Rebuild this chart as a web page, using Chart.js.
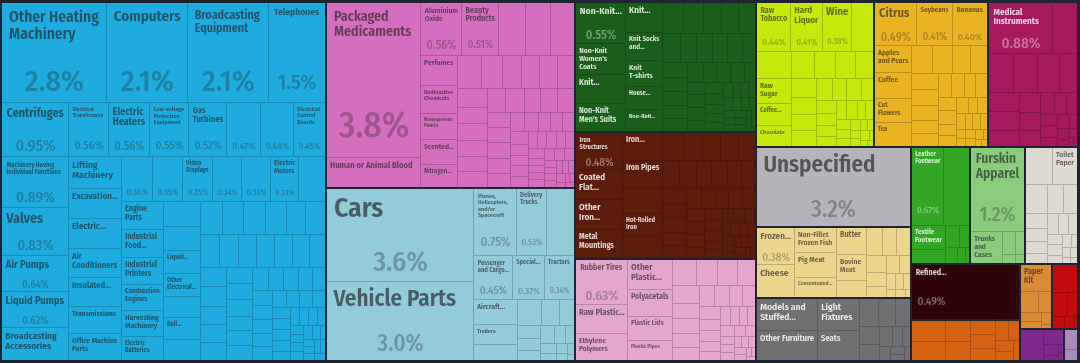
<!DOCTYPE html>
<html>
<head>
<meta charset="utf-8">
<script src="https://cdn.jsdelivr.net/npm/chart.js@4.4.0/dist/chart.umd.min.js"></script>
<style>
  html, body { margin: 0; padding: 0; background: #1e2430; }
  #wrap { width: 1080px; height: 363px; }
</style>
</head>
<body>
<div id="wrap"><canvas id="treemap"></canvas></div>
<script>
// export shares (%) by product, grouped by section; names only where the chart shows one
const machineLabels = ['Other Heating Machinery', 'Computers', 'Broadcasting Equipment', 'Telephones',
  'Centrifuges', 'Machinery Having Individual Functions', 'Valves', 'Air Pumps', 'Liquid Pumps', 'Broadcasting Accessories',
  'Electrical Transformers', 'Electric Heaters', 'Low-voltage Protection Equipment', 'Gas Turbines', 'Spark-Ignition Engines', '', 'Electrical Control Boards',
  'Lifting Machinery', 'Excavation...', 'Electric...', 'Air Conditioners', 'Insulated...', 'Transmissions', 'Office Machine Parts',
  '', '', 'Video Displays', '', '', 'Electric Motors', '',
  'Engine Parts', 'Industrial Food...', 'Industrial Printers', 'Combustion Engines', 'Harvesting Machinery', 'Electric Batteries',
  '', '', 'Liquid...', 'Other Electrical...', '', 'Ball...', ''];
const machineValues = [2.76, 2.1, 2.1, 1.5,
  0.95, 0.89, 0.83, 0.64, 0.62, 0.58,
  0.56, 0.56, 0.55, 0.52, 0.47, 0.46, 0.45,
  0.44, 0.42, 0.41, 0.40, 0.39, 0.38, 0.37,
  0.36, 0.35, 0.35, 0.34, 0.33, 0.33, 0.32,
  0.30, 0.29, 0.29, 0.28, 0.27, 0.26,
  0.24, 0.23, 0.22, 0.22, 0.21, 0.21, 0.20,
  0.19, 0.18, 0.18, 0.18, 0.17, 0.17,
  0.16, 0.16, 0.15, 0.15, 0.15, 0.14, 0.14,
  0.13, 0.13, 0.12, 0.12, 0.12, 0.11, 0.11, 0.11,
  0.10, 0.10, 0.10, 0.09, 0.09, 0.09, 0.08, 0.08, 0.08,
  0.07, 0.07, 0.07, 0.07, 0.06, 0.06, 0.06, 0.06, 0.05, 0.05, 0.05,
  0.05, 0.04, 0.04, 0.04, 0.04, 0.04, 0.03, 0.03, 0.03, 0.03, 0.03, 0.03, 0.02, 0.02, 0.02, 0.02, 0.02, 0.02, 0.02];

const chemLabels = ['Packaged Medicaments', 'Human or Animal Blood', 'Aluminium Oxide', 'Beauty Products', '', '', '',
  'Perfumes', 'Radioactive Chemicals', 'Nonaqueous Paints', 'Scented...', 'Nitrogen...', 'Hair Products'];
const chemValues = [3.8, 0.72, 0.56, 0.51, 0.38, 0.34, 0.33, 0.29, 0.27, 0.25, 0.23, 0.22, 0.21,
  0.18, 0.17, 0.16, 0.15, 0.15, 0.14, 0.13, 0.13, 0.12, 0.12, 0.12, 0.11, 0.11,
  0.10, 0.10, 0.10, 0.09, 0.09, 0.09, 0.09, 0.08, 0.07, 0.07, 0.06, 0.06, 0.06, 0.06, 0.05, 0.05, 0.05,
  0.05, 0.04, 0.04, 0.04, 0.04, 0.04, 0.04, 0.03, 0.03, 0.03,
  0.03, 0.03, 0.03, 0.03, 0.02, 0.02, 0.02, 0.02, 0.02, 0.02, 0.02, 0.02, 0.01, 0.01, 0.01, 0.01];

const transLabels = ['Cars', 'Vehicle Parts', 'Planes, Helicopters, and/or Spacecraft', 'Delivery Trucks', '',
  'Passenger and Cargo...', 'Special...', 'Tractors', 'Aircraft...', 'Trailers'];
const transValues = [3.6, 3.0, 0.75, 0.53, 0.48, 0.45, 0.37, 0.34, 0.28, 0.22, 0.18,
  0.16, 0.12, 0.10, 0.08, 0.07, 0.06, 0.06, 0.05, 0.04, 0.04, 0.03, 0.03, 0.02, 0.02, 0.01];

const textileLabels = ['Non-Knit...', "Non-Knit Women's Coats", 'Knit...', "Non-Knit Men's Suits",
  'Knit...', 'Knit Socks and...', 'Knit T-shirts', 'House...', 'Non-Knit...'];
const textileValues = [0.55, 0.40, 0.38, 0.36, 0.30, 0.27, 0.26, 0.22, 0.21,
  0.17, 0.16, 0.15, 0.14, 0.14, 0.13, 0.12, 0.12, 0.11, 0.11, 0.10,
  0.10, 0.09, 0.09, 0.08, 0.08, 0.08, 0.07, 0.07, 0.07, 0.06, 0.06, 0.06, 0.06, 0.05,
  0.05, 0.05, 0.04, 0.04, 0.04, 0.04, 0.03, 0.03,
  0.03, 0.03, 0.03, 0.03, 0.02, 0.02, 0.02, 0.02, 0.02, 0.02, 0.02, 0.01, 0.01, 0.01, 0.01, 0.01];

const metalLabels = ['Iron Structures', 'Coated Flat...', 'Other Iron...', 'Metal Mountings',
  'Iron...', 'Iron Pipes', '', 'Hot-Rolled Iron', ''];
const metalValues = [0.48, 0.38, 0.37, 0.36, 0.30, 0.28, 0.26, 0.24, 0.22,
  0.16, 0.15, 0.14, 0.14, 0.13, 0.12, 0.12, 0.11, 0.11, 0.10, 0.10,
  0.09, 0.09, 0.09, 0.08, 0.08, 0.08, 0.07, 0.07, 0.07, 0.07, 0.06, 0.06, 0.06, 0.05, 0.05, 0.05, 0.05,
  0.04, 0.04, 0.04, 0.04, 0.04, 0.03, 0.03, 0.03, 0.03, 0.03,
  0.02, 0.02, 0.02, 0.02, 0.02, 0.02, 0.01, 0.01, 0.01, 0.01];

const plasticLabels = ['Rubber Tires', 'Raw Plastic...', 'Ethylene Polymers', 'Other Plastic...', 'Polyacetals', 'Plastic Lids', 'Plastic Pipes'];
const plasticValues = [0.63, 0.40, 0.37, 0.36, 0.31, 0.28, 0.23,
  0.17, 0.15, 0.14, 0.13, 0.12, 0.11, 0.10, 0.10, 0.09,
  0.08, 0.08, 0.07, 0.07, 0.07, 0.06, 0.06, 0.05, 0.05, 0.05, 0.04, 0.04, 0.04,
  0.04, 0.03, 0.03, 0.03, 0.03, 0.03, 0.02, 0.02, 0.02, 0.02, 0.02, 0.01, 0.01, 0.01];

const foodLabels = ['Raw Tobacco', 'Hard Liquor', 'Wine', '', '', 'Raw Sugar', 'Coffee...', 'Chocolate'];
const foodValues = [0.44, 0.41, 0.38, 0.28, 0.25, 0.23, 0.20, 0.19,
  0.16, 0.15, 0.14, 0.13, 0.12, 0.11, 0.10, 0.10, 0.09,
  0.08, 0.08, 0.07, 0.07, 0.06, 0.06, 0.05, 0.05, 0.05, 0.04, 0.04, 0.04, 0.03,
  0.03, 0.03, 0.02, 0.02, 0.02, 0.02, 0.02, 0.01, 0.01, 0.01];

const vegLabels = ['Citrus', 'Soybeans', 'Bananas', 'Apples and Pears', 'Coffee', 'Cut Flowers', 'Tea'];
const vegValues = [0.49, 0.41, 0.40, 0.26, 0.25, 0.24, 0.23,
  0.15, 0.14, 0.13, 0.12, 0.11, 0.11, 0.10, 0.09, 0.09,
  0.08, 0.08, 0.07, 0.07, 0.06, 0.06, 0.05, 0.05, 0.05, 0.04, 0.04, 0.04, 0.03,
  0.03, 0.03, 0.02, 0.02, 0.02, 0.02, 0.02, 0.01, 0.01, 0.01];

const instrumentLabels = ['Medical Instruments'];
const instrumentValues = [0.88, 0.33, 0.26, 0.24, 0.22, 0.18, 0.16, 0.15, 0.13, 0.11, 0.10, 0.09, 0.08,
  0.07, 0.06, 0.05, 0.05, 0.04, 0.04, 0.03, 0.03, 0.02, 0.02, 0.01, 0.01];

const unspecifiedLabels = ['Unspecified'];
const unspecifiedValues = [3.2];

const animalLabels = ['Frozen...', 'Cheese', 'Non-Fillet Frozen Fish', 'Pig Meat', 'Concentrated...', 'Butter', 'Bovine Meat'];
const animalValues = [0.38, 0.33, 0.28, 0.27, 0.22, 0.21, 0.20, 0.13, 0.12, 0.11, 0.10, 0.09,
  0.07, 0.06, 0.06, 0.05, 0.04, 0.03, 0.03, 0.02, 0.02, 0.01];

const miscLabels = ['Models and Stuffed...', 'Other Furniture', 'Light Fixtures', 'Seats'];
const miscValues = [0.52, 0.48, 0.35, 0.33, 0.14, 0.12, 0.11, 0.09, 0.08, 0.07, 0.05, 0.04, 0.04, 0.03, 0.02, 0.02];

const footwearLabels = ['Leather Footwear', '', 'Textile Footwear'];
const footwearValues = [0.67, 0.55, 0.22, 0.12, 0.08, 0.06, 0.05, 0.03, 0.02];

const hideLabels = ['Furskin Apparel', 'Trunks and Cases'];
const hideValues = [1.2, 0.26, 0.08, 0.05, 0.03, 0.02];

const paperLabels = ['', 'Toilet Paper'];
const paperValues = [0.28, 0.25, 0.17, 0.12, 0.10, 0.09, 0.08, 0.07, 0.06, 0.06, 0.05, 0.05,
  0.04, 0.04, 0.03, 0.03, 0.02, 0.02, 0.02, 0.01, 0.01];

const mineralLabels = ['Refined...'];
const mineralValues = [0.49, 0.10, 0.10, 0.10, 0.09, 0.09, 0.08, 0.08, 0.07, 0.07, 0.06, 0.06,
  0.05, 0.05, 0.04, 0.03, 0.03];

const byproductLabels = [];
const byproductValues = [0.20, 0.17, 0.14, 0.12, 0.10, 0.09, 0.08, 0.07, 0.06, 0.05, 0.04, 0.03];

const stoneLabels = ['Paper Kit'];
const stoneValues = [0.23, 0.10, 0.07, 0.05, 0.04, 0.03, 0.01];

const weaponLabels = [];
const weaponValues = [0.20, 0.10, 0.06, 0.04, 0.03, 0.01];

const preciousLabels = [];
const preciousValues = [0.20, 0.08, 0.04, 0.02, 0.01, 0.01];

const artLabels = [];
const artValues = [0.08, 0.04];

const sectionNames = ['Machines', 'Chemical Products', 'Transportation', 'Textiles', 'Metals', 'Plastics and Rubbers',
  'Foodstuffs', 'Vegetable Products', 'Instruments', 'Unspecified', 'Animal Products', 'Miscellaneous',
  'Footwear and Headwear', 'Animal Hides', 'Paper Goods', 'Mineral Products', 'Animal and Vegetable Bi-Products',
  'Stone and Glass', 'Weapons', 'Precious Metals', 'Arts and Antiques'];
const sectionLabels = [machineLabels, chemLabels, transLabels, textileLabels, metalLabels, plasticLabels,
  foodLabels, vegLabels, instrumentLabels, unspecifiedLabels, animalLabels, miscLabels,
  footwearLabels, hideLabels, paperLabels, mineralLabels, byproductLabels,
  stoneLabels, weaponLabels, preciousLabels, artLabels];
const sectionValues = [machineValues, chemValues, transValues, textileValues, metalValues, plasticValues,
  foodValues, vegValues, instrumentValues, unspecifiedValues, animalValues, miscValues,
  footwearValues, hideValues, paperValues, mineralValues, byproductValues,
  stoneValues, weaponValues, preciousValues, artValues];

const SECTION_COLORS = ['#1eace0', '#d56ebe', '#91ccd8', '#1b5e1c', '#5c1c0b', '#e4a6ca',
  '#c6ea0c', '#eab422', '#a41a5c', '#b4b4ba', '#ecd68e', '#707072',
  '#34a626', '#8acc7c', '#dedad2', '#2e0406', '#d46210',
  '#da8c34', '#c40a0c', '#7e2a8c', '#a88cba'];
const BG = '#1e2430';
const FONT = '"Fira Sans Condensed", "Roboto Condensed", "DejaVu Sans Condensed", "Liberation Sans Narrow", "Noto Sans", sans-serif';
const PHI = (1 + Math.sqrt(5)) / 2;

function toRgb(hex) {
  const n = parseInt(hex.slice(1), 16);
  return [(n >> 16) & 255, (n >> 8) & 255, n & 255];
}
function mix(hex, target, t) {
  const a = toRgb(hex), b = toRgb(target);
  return 'rgb(' + a.map((v, i) => Math.round(v + (b[i] - v) * t)).join(',') + ')';
}
function isDark(hex) {
  const [r, g, b] = toRgb(hex);
  return 0.299 * r + 0.587 * g + 0.114 * b < 120;
}

// squarified layout, golden ratio (same rules as d3.treemapSquarify)
function squarify(nodes, x0, y0, x1, y1) {
  let value = nodes.reduce((s, d) => s + d.value, 0);
  let i0 = 0, i1 = 0;
  const n = nodes.length;
  while (i0 < n) {
    const dx = x1 - x0, dy = y1 - y0;
    let sum = nodes[i1++].value;
    let minV = sum, maxV = sum;
    const alpha = Math.max(dy / dx, dx / dy) / (value * PHI);
    let beta = sum * sum * alpha;
    let minRatio = Math.max(maxV / beta, beta / minV);
    for (; i1 < n; ++i1) {
      const v = nodes[i1].value;
      sum += v;
      if (v < minV) minV = v;
      if (v > maxV) maxV = v;
      beta = sum * sum * alpha;
      const r = Math.max(maxV / beta, beta / minV);
      if (r > minRatio) { sum -= v; break; }
      minRatio = r;
    }
    const row = nodes.slice(i0, i1);
    if (dx < dy) {
      const yb = i1 < n ? y0 + dy * sum / value : y1;
      let x = x0;
      row.forEach(d => {
        d.x0 = x; x += dx * d.value / sum; d.x1 = x; d.y0 = y0; d.y1 = yb;
      });
      y0 = yb;
    } else {
      const xb = i1 < n ? x0 + dx * sum / value : x1;
      let y = y0;
      row.forEach(d => {
        d.y0 = y; y += dy * d.value / sum; d.y1 = y; d.x0 = x0; d.x1 = xb;
      });
      x0 = xb;
    }
    value -= sum;
    i0 = i1;
  }
}

function wrapLines(ctx, text, maxW) {
  const words = text.split(' ');
  const lines = [];
  let cur = '';
  words.forEach(w => {
    const t = cur ? cur + ' ' + w : w;
    if (!cur || ctx.measureText(t).width <= maxW) cur = t;
    else { lines.push(cur); cur = w; }
  });
  if (cur) lines.push(cur);
  return lines;
}

function fitName(ctx, text, maxW, maxH, maxFs) {
  for (let fs = Math.floor(maxFs * 2) / 2; fs >= 5; fs -= 0.5) {
    ctx.font = '600 ' + fs + 'px ' + FONT;
    const lines = wrapLines(ctx, text, maxW);
    if (lines.length * fs * 1.08 <= maxH && lines.every(l => ctx.measureText(l).width <= maxW)) {
      return { fs, lines };
    }
  }
  return null;
}

function fmtShare(v) {
  return (v >= 1 ? v.toFixed(1) : v.toFixed(2)) + '%';
}

function drawLabels(ctx, cell, color, x0, y0, x1, y1) {
  const w = x1 - x0, h = y1 - y0;
  if (w < 18 || h < 10) return;
  const dark = isDark(color);
  const nameColor = dark ? mix(color, '#ffffff', 0.85) : mix(color, '#222222', 0.65);
  const pctColor = dark ? mix(color, '#ffffff', 0.4) : mix(color, '#222222', 0.32);
  const pad = Math.max(2, Math.min(6, Math.min(w, h) * 0.07)) + 1;
  const showPct = cell.value >= 0.28 && w >= 28 && h >= 36;
  let nameBottom = y0 + pad;
  if (cell.label) {
    const areaH = showPct ? h * 0.4 : h - 2 * pad;
    const fit = fitName(ctx, cell.label, w - 2 * pad, areaH, Math.min(h * 0.3, 34));
    if (fit) {
      ctx.font = '600 ' + fit.fs + 'px ' + FONT;
      ctx.fillStyle = nameColor;
      ctx.textAlign = 'left';
      ctx.textBaseline = 'top';
      fit.lines.forEach((l, k) => ctx.fillText(l, x0 + pad, y0 + pad + k * fit.fs * 1.08));
      nameBottom = y0 + pad + fit.lines.length * fit.fs * 1.08;
    }
  }
  if (showPct) {
    const txt = fmtShare(cell.value);
    const fs = Math.min(h * 0.3, (w - 2 * pad) / (0.56 * txt.length), 46);
    let cy = y0 + h * 0.8;
    if (cy + fs * 0.5 > y1 - 2) cy = y1 - 2 - fs * 0.5;
    if (cy - fs * 0.5 < nameBottom) return;
    ctx.font = '500 ' + fs + 'px ' + FONT;
    ctx.fillStyle = pctColor;
    ctx.textAlign = 'center';
    ctx.textBaseline = 'middle';
    ctx.fillText(txt, (x0 + x1) / 2, cy);
  }
}

const treemapPlugin = {
  id: 'treemap',
  beforeDraw(chart) {
    const { ctx, width, height } = chart;
    ctx.save();
    ctx.fillStyle = BG;
    ctx.fillRect(0, 0, width, height);
    ctx.restore();
  },
  afterDatasetsDraw(chart) {
    const { ctx, chartArea, scales } = chart;
    const W = chartArea.right - chartArea.left;
    const H = chartArea.bottom - chartArea.top;
    const px = u => Math.round(scales.x.getPixelForValue(u / W * 100));
    const py = v => Math.round(scales.y.getPixelForValue(v / H * 100));

    const groups = sectionNames.map((name, i) => ({
      i, name, value: sectionValues[i].reduce((a, b) => a + b, 0)
    }));
    groups.sort((a, b) => b.value - a.value);
    squarify(groups, 0, 0, W, H);

    ctx.save();
    groups.forEach(g => {
      const color = SECTION_COLORS[g.i];
      const gx0 = px(g.x0) + 1, gx1 = px(g.x1) - 1;
      const gy0 = py(g.y0) + 1, gy1 = py(g.y1) - 1;
      ctx.fillStyle = color;
      ctx.fillRect(gx0, gy0, gx1 - gx0, gy1 - gy0);

      const cells = sectionValues[g.i].map((v, k) => ({ value: v, label: sectionLabels[g.i][k] || '' }));
      cells.sort((a, b) => b.value - a.value);
      squarify(cells, g.x0, g.y0, g.x1, g.y1);

      ctx.strokeStyle = mix(color, '#000000', 0.2);
      ctx.lineWidth = 1;
      ctx.beginPath();
      cells.forEach(c => {
        const cx0 = Math.max(px(c.x0), gx0), cx1 = Math.min(px(c.x1), gx1);
        const cy0 = Math.max(py(c.y0), gy0), cy1 = Math.min(py(c.y1), gy1);
        if (cx1 < gx1) { ctx.moveTo(cx1 - 0.5, cy0); ctx.lineTo(cx1 - 0.5, cy1); }
        if (cy1 < gy1) { ctx.moveTo(cx0, cy1 - 0.5); ctx.lineTo(cx1, cy1 - 0.5); }
      });
      ctx.stroke();

      cells.forEach(c => {
        const cx0 = Math.max(px(c.x0), gx0), cx1 = Math.min(px(c.x1), gx1);
        const cy0 = Math.max(py(c.y0), gy0), cy1 = Math.min(py(c.y1), gy1);
        drawLabels(ctx, c, color, cx0, cy0, cx1, cy1);
      });
    });
    ctx.restore();
  }
};

const chart = new Chart(document.getElementById('treemap').getContext('2d'), {
  type: 'scatter',
  data: { datasets: [{ data: [] }] },
  options: {
    responsive: true,
    maintainAspectRatio: false,
    animation: false,
    devicePixelRatio: 1,
    layout: { padding: { left: 1, right: 2, top: 2, bottom: 2 } },
    plugins: { legend: { display: false }, tooltip: { enabled: false } },
    scales: {
      x: { type: 'linear', min: 0, max: 100, display: false },
      y: { type: 'linear', min: 0, max: 100, reverse: true, display: false }
    }
  },
  plugins: [treemapPlugin]
});
</script>
</body>
</html>
